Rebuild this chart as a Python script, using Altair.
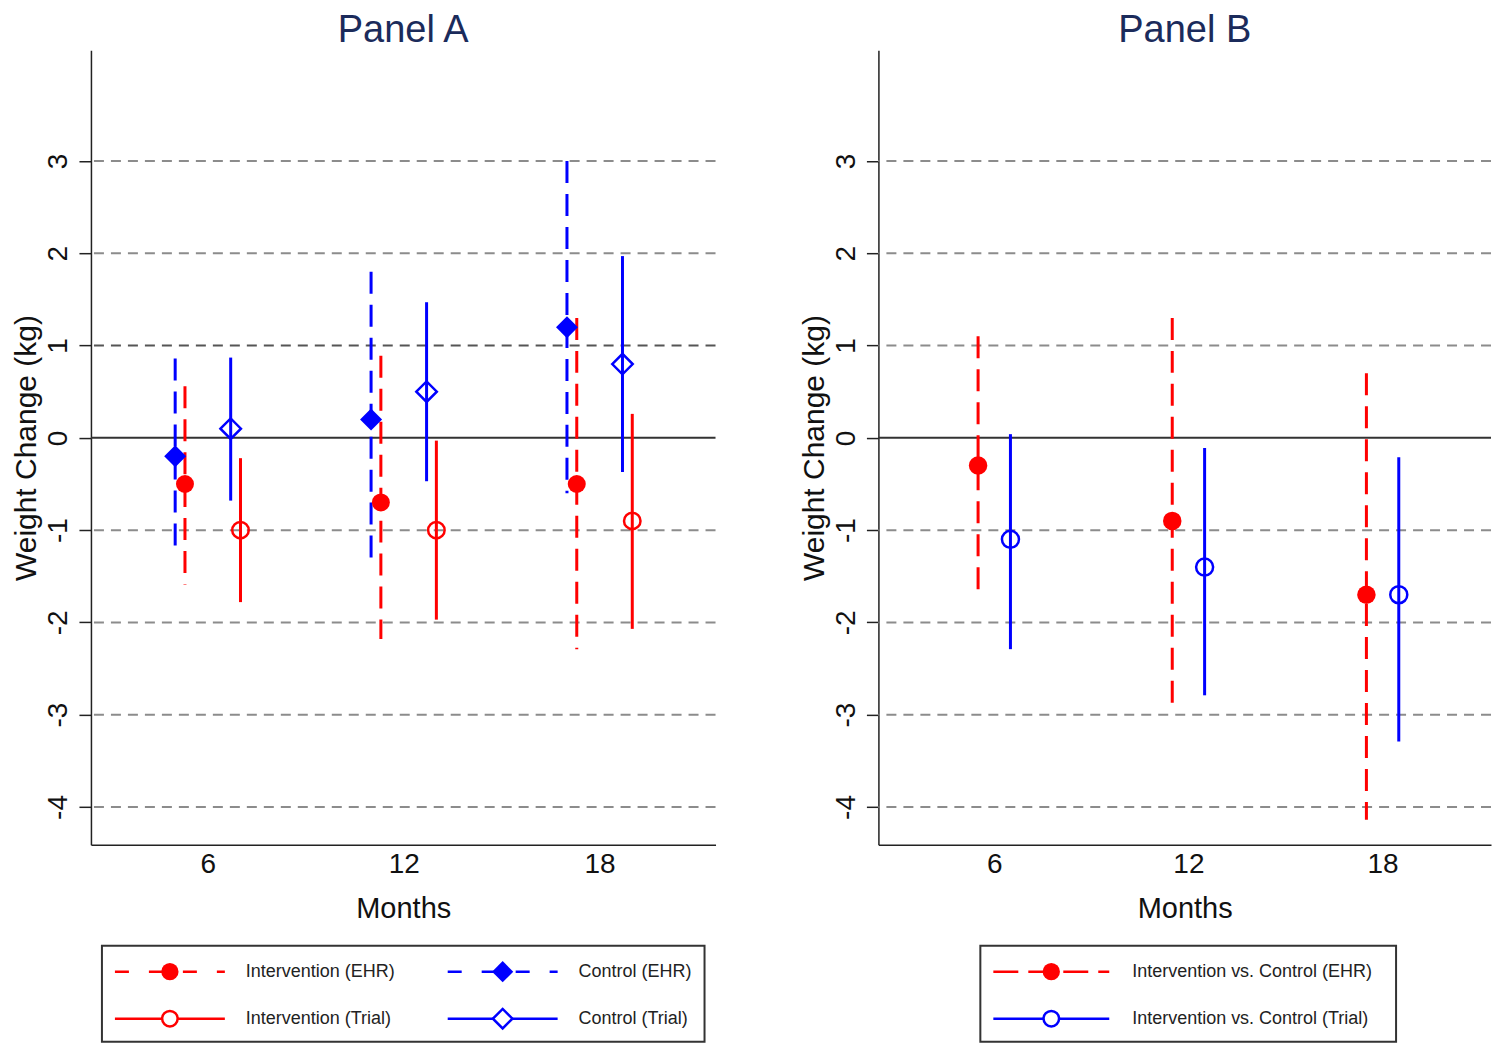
import altair as alt
import pandas as pd

FONT = "Liberation Sans"
RED = "#ff0000"
BLUE = "#0000ff"

# ---------------- data ----------------
months = [6, 12, 18]
x_ticks = [6, 12, 18]
y_ticks = [-4, -3, -2, -1, 0, 1, 2, 3]
grid_levels = [-4, -3, -2, -1, 1, 2, 3]

# Panel A
a_series = ["Intervention (EHR)", "Control (EHR)", "Intervention (Trial)", "Control (Trial)"]
a_int_ehr_est = [-0.5, -0.7, -0.5]
a_int_ehr_lo = [-1.59, -2.18, -2.29]
a_int_ehr_hi = [0.56, 0.89, 1.30]
a_ctl_ehr_est = [-0.2, 0.2, 1.2]
a_ctl_ehr_lo = [-1.28, -1.39, -0.60]
a_ctl_ehr_hi = [0.86, 1.80, 3.00]
a_int_trial_est = [-1.0, -1.0, -0.9]
a_int_trial_lo = [-1.78, -1.97, -2.07]
a_int_trial_hi = [-0.22, -0.03, 0.26]
a_ctl_trial_est = [0.1, 0.5, 0.8]
a_ctl_trial_lo = [-0.68, -0.47, -0.37]
a_ctl_trial_hi = [0.87, 1.47, 1.97]

# Panel B
b_series = ["Intervention vs. Control (EHR)", "Intervention vs. Control (Trial)"]
b_ehr_est = [-0.3, -0.9, -1.7]
b_ehr_lo = [-1.69, -2.99, -4.14]
b_ehr_hi = [1.10, 1.30, 0.70]
b_trial_est = [-1.1, -1.4, -1.7]
b_trial_lo = [-2.29, -2.79, -3.29]
b_trial_hi = [0.04, -0.11, -0.21]

# ---------------- styles ----------------
DASH_PLOT = [22, 11]
A_STYLE = {
    "Intervention (EHR)": dict(color=RED, dash=DASH_PLOT, shape="circle", filled=True, size=324, dodge=-0.7,
                               lsize=300, ldash=[14, 20]),
    "Control (EHR)": dict(color=BLUE, dash=DASH_PLOT, shape="diamond", filled=True, size=484, dodge=-1.0,
                          lsize=450, ldash=[14, 20]),
    "Intervention (Trial)": dict(color=RED, dash=None, shape="circle", filled=False, size=272, dodge=1.0,
                                 lsize=240, ldash=None),
    "Control (Trial)": dict(color=BLUE, dash=None, shape="diamond", filled=False, size=420, dodge=0.7,
                            lsize=380, ldash=None),
}
B_STYLE = {
    "Intervention vs. Control (EHR)": dict(color=RED, dash=DASH_PLOT, shape="circle", filled=True, size=342,
                                           dodge=-0.5, lsize=300, ldash=[25, 10]),
    "Intervention vs. Control (Trial)": dict(color=BLUE, dash=None, shape="circle", filled=False, size=290,
                                             dodge=0.5, lsize=240, ldash=None),
}


def series_table(names, ests, los, his, styles):
    rows = []
    for name, est, lo, hi in zip(names, ests, los, his):
        for m, e, l, h in zip(months, est, lo, hi):
            rows.append({"series": name, "month": m, "est": e, "lo": l, "hi": h,
                         "dodge": styles[name]["dodge"]})
    return pd.DataFrame(rows)


df_a = series_table(a_series,
                    [a_int_ehr_est, a_ctl_ehr_est, a_int_trial_est, a_ctl_trial_est],
                    [a_int_ehr_lo, a_ctl_ehr_lo, a_int_trial_lo, a_ctl_trial_lo],
                    [a_int_ehr_hi, a_ctl_ehr_hi, a_int_trial_hi, a_ctl_trial_hi],
                    A_STYLE)
df_b = series_table(b_series, [b_ehr_est, b_trial_est], [b_ehr_lo, b_trial_lo],
                    [b_ehr_hi, b_trial_hi], B_STYLE)

Y_DOMAIN = [-4.41, 4.2]
PLOT_H = 795

y_axis = alt.Axis(values=y_ticks, title="Weight Change (kg)", labelAngle=270, labelAlign="center",
                  labelBaseline="bottom", labelFontSize=28, labelFont=FONT, labelColor="#111111",
                  labelExpr="'' + datum.value",
                  titleFontSize=30, titleFont=FONT, titleFontWeight="normal", titleColor="#111111",
                  tickSize=12, tickWidth=1.5, tickColor="#222222", domainColor="#222222",
                  domainWidth=1.5, labelPadding=6, titlePadding=3, grid=False)
x_axis = alt.Axis(values=x_ticks, title="Months", ticks=False, tickSize=0, labelAngle=0,
                  labelFontSize=28, labelFont=FONT, labelColor="#111111", labelPadding=6,
                  titleFontSize=29, titleFont=FONT, titleFontWeight="normal", titleColor="#111111",
                  titlePadding=16, domainColor="#222222", domainWidth=1.5, grid=False)


def panel(df, styles, title, width, xdomain, dark_one):
    xs = alt.Scale(domain=xdomain, nice=False, zero=False)
    ys = alt.Scale(domain=Y_DOMAIN, nice=False, zero=False)
    X = alt.X("xpos:Q", scale=xs, axis=x_axis)

    if dark_one:
        gcolor = alt.condition("datum.level == 1", alt.value("#555555"), alt.value("#8c8c8c"))
    else:
        gcolor = alt.value("#8c8c8c")
    grid = alt.Chart(pd.DataFrame({"level": grid_levels})).mark_rule(
        strokeDash=[10, 7], strokeWidth=2).encode(
        y=alt.Y("level:Q", scale=ys, axis=y_axis), color=gcolor)
    zero = alt.Chart(pd.DataFrame({"level": [0]})).mark_rule(
        color="#333333", strokeWidth=2).encode(y=alt.Y("level:Q", scale=ys, axis=y_axis))

    layers = [grid, zero]
    base = alt.Chart(df).transform_calculate(xpos="datum.month + datum.dodge")
    for name, st in styles.items():
        kw = dict(color=st["color"], strokeWidth=3)
        if st["dash"]:
            kw["strokeDash"] = st["dash"]
        layers.append(base.transform_filter(alt.datum.series == name).mark_rule(**kw).encode(
            x=X, y=alt.Y("hi:Q", scale=ys, axis=y_axis), y2="lo:Q"))
    for name, st in styles.items():
        if st["filled"]:
            m = dict(shape=st["shape"], size=st["size"], filled=True, color=st["color"], opacity=1)
        else:
            m = dict(shape=st["shape"], size=st["size"], filled=False, color=st["color"],
                     strokeWidth=2.5, opacity=1)
        layers.append(base.transform_filter(alt.datum.series == name).mark_point(**m).encode(
            x=X, y=alt.Y("est:Q", scale=ys, axis=y_axis)))

    return alt.layer(*layers).properties(
        width=width, height=PLOT_H,
        title=alt.TitleParams(title, fontSize=38, font=FONT, fontWeight="normal", color="#1b2b5b",
                              anchor="middle", offset=0))


LEG_H = 98


def legend(names, styles, width, box, x0, col_step, line_len, text_gap, row_y, ncol):
    rows = []
    for i, name in enumerate(names):
        col, row = i % ncol, i // ncol
        x1 = x0 + col * col_step
        rows.append({"label": name, "x1": x1, "x2": x1 + line_len, "xm": x1 + line_len / 2,
                     "xt": x1 + line_len + text_gap, "ly": row_y[row]})
    df = pd.DataFrame(rows)
    frame = alt.Chart(pd.DataFrame({"k": [0]})).mark_rect(
        fill="white", stroke="#333333", strokeWidth=2).encode(
        x=alt.value(box[0]), x2=alt.value(box[1]), y=alt.value(1), y2=alt.value(LEG_H - 1))
    layers = [frame]
    for name in names:
        st = styles[name]
        sub = alt.Chart(df).transform_filter(alt.datum.label == name)
        kw = dict(color=st["color"], strokeWidth=2.5)
        if st["ldash"]:
            kw["strokeDash"] = st["ldash"]
        layers.append(sub.mark_rule(**kw).encode(
            x=alt.X("x1:Q", scale=None, axis=None), x2="x2:Q",
            y=alt.Y("ly:Q", scale=None, axis=None)))
        if st["filled"]:
            m = dict(shape=st["shape"], size=st["lsize"], filled=True, color=st["color"], opacity=1)
        else:
            m = dict(shape=st["shape"], size=st["lsize"], filled=False, color=st["color"],
                     fill="white", strokeWidth=2.5, opacity=1)
        layers.append(sub.mark_point(**m).encode(
            x=alt.X("xm:Q", scale=None, axis=None), y=alt.Y("ly:Q", scale=None, axis=None)))
    layers.append(alt.Chart(df).mark_text(align="left", baseline="middle", fontSize=18, font=FONT,
                                          color="#222222").encode(
        x=alt.X("xt:Q", scale=None, axis=None), y=alt.Y("ly:Q", scale=None, axis=None),
        text="label:N"))
    return alt.layer(*layers).properties(width=width, height=LEG_H)


WA, WB = 625, 613
panel_a = panel(df_a, A_STYLE, "Panel A", WA, [2.42, 21.55], True)
panel_b = panel(df_b, B_STYLE, "Panel B", WB, [2.42, 21.35], False)

legend_a = legend(a_series, A_STYLE, WA, (11, 614), 24, 333, 110, 21, [27, 74], 2)
legend_b = legend(b_series, B_STYLE, WB, (102, 518), 115, 0, 116, 23, [27, 74], 1)

chart = alt.concat(panel_a, panel_b, legend_a, legend_b, columns=2,
                   spacing=alt.RowColnumber(row=100, column=163),
                   bounds="flush",
                   padding=alt.Padding(left=4, top=4, right=0, bottom=0)).configure_view(stroke=None)

chart.save("out.html", embed_options={"renderer": "svg", "actions": False})
